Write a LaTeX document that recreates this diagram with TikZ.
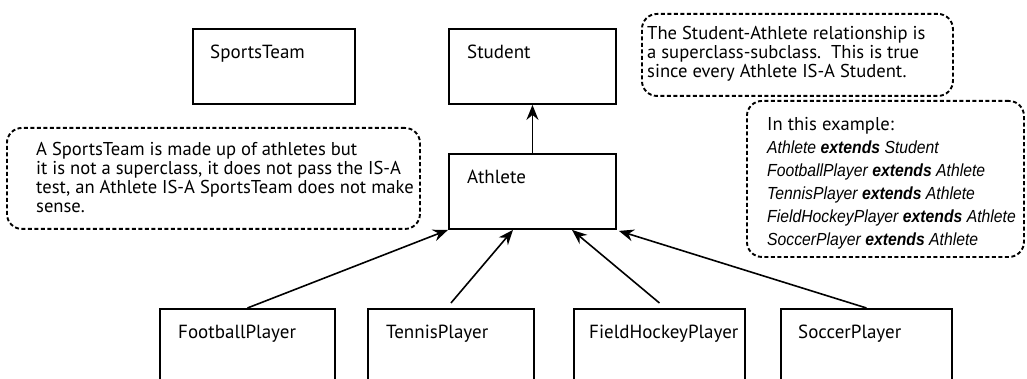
\documentclass[tikz,border=0pt]{standalone}
\usepackage{fontspec}
\setmainfont{PT Sans}
\newfontfamily\condfont[FakeStretch=0.9]{Liberation Sans}
\usetikzlibrary{arrows.meta}

\begin{document}
\begin{tikzpicture}[x=1pt,y=-1pt,
  cls/.style={draw, line width=1.9pt, inner sep=0pt, anchor=north west},
  clsname/.style={anchor=base west, inner sep=0pt, font=\fontsize{19}{19}\selectfont},
  note/.style={draw, dash pattern=on 4pt off 2.5pt, line width=1.9pt,
    rounded corners=15pt, inner sep=0pt, anchor=north west},
  notetext/.style={anchor=base west, inner sep=0pt, align=left,
    font=\fontsize{18.6}{19.2}\selectfont},
  arr/.style={-{Stealth[length=15pt,width=12pt,inset=5pt]}, line width=1.6pt}
]
\useasboundingbox (0,0) rectangle (1027,379);
\clip (0,0) rectangle (1027,379);

% class boxes
\node[cls, minimum width=162pt, minimum height=75pt] (team) at (192,28) {};
\node[cls, minimum width=167pt, minimum height=75pt] (student) at (448,28) {};
\node[cls, minimum width=167pt, minimum height=75pt] (athlete) at (448,153) {};
\node[cls, minimum width=175pt, minimum height=110pt] (football) at (159,308) {};
\node[cls, minimum width=166pt, minimum height=110pt] (tennis) at (367,308) {};
\node[cls, minimum width=171pt, minimum height=110pt] (hockey) at (573,308) {};
\node[cls, minimum width=171pt, minimum height=110pt] (soccer) at (780,308) {};

% class names
\node[clsname] (teamname) at (210,59) {SportsTeam};
\node[clsname] (studentname) at (467,59) {Student};
\node[clsname] (athletename) at (467,184) {Athlete};
\node[clsname] (footballname) at (178,338) {FootballPlayer};
\node[clsname] (tennisname) at (386,338) {TennisPlayer};
\node[clsname] (hockeyname) at (589,338) {FieldHockeyPlayer};
\node[clsname] (soccername) at (798,338) {SoccerPlayer};

% inheritance arrows
\draw[arr] (athlete) -- (student);
\draw[arr] (football.north) -- (athlete.south west);
\draw[arr] ([yshift=5pt]tennis.north) -- ([xshift=65pt]athlete.south west);
\draw[arr] ([yshift=5pt]hockey.north) -- ([xshift=124pt]athlete.south west);
\draw[arr] (soccer.north) -- ([xshift=2pt,yshift=-1pt]athlete.south east);

% comment frames
\node[note, minimum width=413pt, minimum height=101pt] (teamnote) at (6,127) {};
\node[note, minimum width=311pt, minimum height=82pt] (isanote) at (641,13) {};
\node[note, minimum width=277pt, minimum height=156pt] (extnote) at (746,100) {};

% comment texts (anchored at the baseline of their last line)
\node[notetext] (teamnotetext) at (36,213) {A SportsTeam is made up of athletes but\\
it is not a superclass, it does not pass the IS-A\\
test, an Athlete IS-A SportsTeam does not make\\
sense.};
\node[notetext] (isanotetext) at (647,78) {The Student-Athlete relationship is\\
a superclass-subclass.\ \ This is true\\
since every Athlete IS-A Student.};
\node[notetext, font=\fontsize{18.6}{22.8}\selectfont] (extnotetext) at (767,245) {In this example:\\
{\condfont\fontsize{17.5}{22.8}\selectfont\itshape Athlete \textbf{extends} Student}\\
{\condfont\fontsize{17.5}{22.8}\selectfont\itshape FootballPlayer \textbf{extends} Athlete}\\
{\condfont\fontsize{17.5}{22.8}\selectfont\itshape TennisPlayer \textbf{extends} Athlete}\\
{\condfont\fontsize{17.5}{22.8}\selectfont\itshape FieldHockeyPlayer \textbf{extends} Athlete}\\
{\condfont\fontsize{17.5}{22.8}\selectfont\itshape SoccerPlayer \textbf{extends} Athlete}};
\end{tikzpicture}
\end{document}
